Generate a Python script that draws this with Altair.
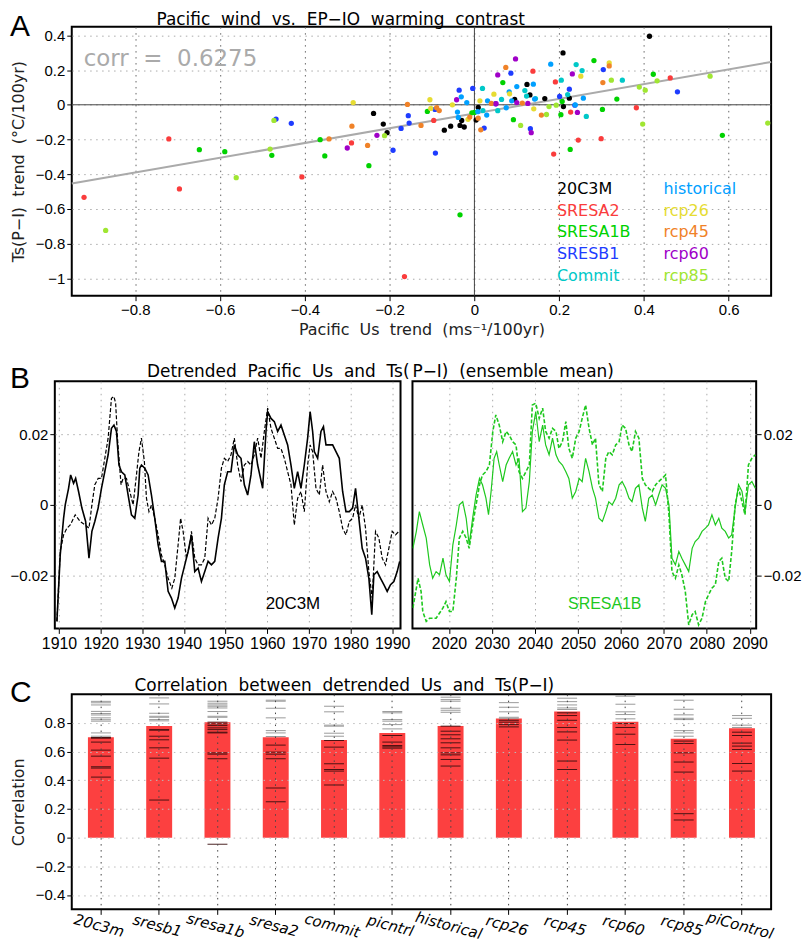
import altair as alt
import pandas as pd

FT = "DejaVu Sans"
FL = "Liberation Sans"
SP = " \u00a0"  # wide word gap (space + no-break space, not collapsed in SVG)

# ---------------- Panel A: scatter ----------------
a_series = ["20C3M", "SRESA2", "SRESA1B", "SRESB1", "Commit",
            "historical", "rcp26", "rcp45", "rcp60", "rcp85"]
a_colors = ["#000000", "#fa3c3c", "#00d200", "#1e3cff", "#00c8c8",
            "#00a0ff", "#e6dc32", "#f08228", "#a000c8", "#a0e632"]

us_20c3m = [-0.238, -0.215, -0.206, -0.071, -0.056, -0.034, -0.024, -0.030, 0.009, 0.004, 0.413, 0.209, 0.124, 0.224, 0.166, 0.210, 0.131, 0.095]
ts_20c3m = [-0.050, -0.111, -0.161, -0.146, -0.123, -0.119, -0.128, -0.090, -0.015, -0.088, 0.395, 0.299, 0.117, 0.038, 0.036, -0.010, 0.057, 0.031]
us_sresa2 = [-0.921, -0.721, -0.696, -0.407, -0.290, -0.165, -0.096, 0.138, 0.462, 0.191, 0.227, 0.382, 0.299, 0.245, 0.187]
ts_sresa2 = [-0.533, -0.197, -0.485, -0.416, -0.220, -0.990, -0.090, 0.194, 0.155, 0.132, -0.042, -0.017, -0.195, -0.203, -0.284]
us_sresa1b = [-0.649, -0.589, -0.478, -0.364, -0.353, -0.249, -0.111, 0.282, 0.067, 0.422, 0.336, 0.207, 0.302, 0.204, 0.585, 0.226, 0.092, 0.000, -0.034, -0.006]
ts_sresa1b = [-0.259, -0.270, -0.291, -0.201, -0.295, -0.351, -0.038, 0.255, 0.128, 0.176, 0.033, 0.019, -0.027, -0.057, -0.176, -0.257, -0.086, -0.044, -0.634, -0.046]
us_sresb1 = [-0.468, -0.432, -0.192, -0.173, -0.156, -0.154, -0.093, -0.092, -0.036, -0.004, 0.304, 0.086, 0.479, 0.224, 0.201, 0.237, 0.132, 0.050, 0.023]
ts_sresb1 = [-0.082, -0.107, -0.262, -0.136, -0.063, -0.105, -0.027, -0.278, 0.084, 0.094, 0.203, 0.182, 0.075, 0.090, 0.048, -0.002, -0.138, 0.006, -0.134]
us_commit = [0.240, 0.254, 0.349, 0.205, 0.019, 0.220, 0.264, 0.144, 0.064, 0.055, 0.020, 0.119, 0.123]
ts_commit = [0.232, 0.197, 0.142, 0.142, 0.094, 0.059, -0.067, 0.036, 0.031, -0.034, -0.033, 0.082, 0.050]
us_hist = [-0.031, -0.040, -0.038, -0.018, 0.180, 0.139, 0.100, 0.257, 0.031, 0.082, 0.075, 0.029, 0.008, 0.088, 0.142, 0.238]
ts_hist = [0.046, -0.042, -0.073, 0.013, 0.234, 0.119, 0.105, 0.038, 0.023, 0.075, -0.017, -0.059, -0.040, 0.023, 0.033, 0.000]
us_rcp26 = [-0.286, -0.105, -0.103, -0.052, -0.015, 0.318, 0.251, 0.046, 0.083, 0.013, 0.140]
ts_rcp26 = [0.013, 0.029, -0.021, 0.000, -0.084, 0.241, 0.165, 0.061, 0.063, 0.023, -0.023]
us_rcp45 = [-0.343, -0.289, -0.252, -0.158, -0.126, -0.089, -0.083, 0.015, 0.318, 0.074, 0.158, 0.113, 0.040, -0.011, 0.009, 0.303]
ts_rcp45 = [-0.197, -0.123, -0.234, 0.002, -0.119, -0.017, -0.033, -0.144, 0.224, 0.215, -0.059, 0.010, 0.008, -0.071, -0.077, 0.128]
us_rcp60 = [-0.300, -0.230, -0.042, 0.097, 0.231, 0.055, 0.243, 0.134, 0.126, 0.100, 0.051]
ts_rcp60 = [-0.249, -0.176, 0.029, 0.264, 0.178, 0.172, -0.044, -0.161, 0.008, 0.013, 0.006]
us_rcp85 = [-0.870, -0.562, -0.482, -0.473, -0.212, 0.556, 0.431, 0.323, 0.389, 0.403, 0.193, 0.176, 0.170, 0.397, 0.692, 0.109]
ts_rcp85 = [-0.724, -0.420, -0.255, -0.090, -0.178, 0.165, 0.138, 0.142, 0.102, 0.084, -0.002, -0.010, -0.056, -0.111, -0.105, -0.119]

a_us = [us_20c3m, us_sresa2, us_sresa1b, us_sresb1, us_commit, us_hist, us_rcp26, us_rcp45, us_rcp60, us_rcp85]
a_ts = [ts_20c3m, ts_sresa2, ts_sresa1b, ts_sresb1, ts_commit, ts_hist, ts_rcp26, ts_rcp45, ts_rcp60, ts_rcp85]

fit_us = [-0.95, 0.70]
fit_ts = [-0.454, 0.247]
corr_text = "corr" + SP + "=" + SP + "0.6275"
a_xticks = [-0.8, -0.6, -0.4, -0.2, 0, 0.2, 0.4, 0.6]
a_yticks = [0.4, 0.2, 0, -0.2, -0.4, -0.6, -0.8, -1.0]

# ---------------- Panel B: detrended ensemble means ----------------
b1_us = [(1909.5,-0.0330),(1910.3,-0.0142),(1911.1,-0.0038),(1911.5,0.0000),(1912.3,0.0047),(1912.8,0.0085),(1913.5,0.0061),(1914.0,0.0075),(1914.7,0.0038),(1915.5,-0.0009),(1916.4,-0.0047),(1917.2,-0.0151),(1917.9,-0.0075),(1918.6,-0.0047),(1919.4,-0.0009),(1920.2,0.0047),(1921.0,0.0094),(1921.8,0.0142),(1922.6,0.0217),(1923.2,0.0226),(1923.8,0.0208),(1924.4,0.0113),(1925.0,0.0094),(1925.8,0.0085),(1926.6,0.0028),(1927.4,-0.0028),(1928.2,-0.0038),(1929.0,0.0028),(1929.4,0.0104),(1929.8,0.0113),(1930.6,0.0104),(1931.4,0.0085),(1932.2,0.0028),(1933.0,-0.0038),(1933.8,-0.0113),(1934.6,-0.0160),(1935.4,-0.0160),(1936.2,-0.0245),(1937.0,-0.0264),(1937.8,-0.0292),(1938.6,-0.0264),(1939.4,-0.0208),(1940.2,-0.0170),(1941.0,-0.0132),(1941.8,-0.0085),(1942.6,-0.0189),(1943.4,-0.0179),(1944.2,-0.0217),(1945.0,-0.0189),(1945.8,-0.0160),(1946.6,-0.0170),(1947.4,-0.0160),(1948.2,-0.0094),(1949.0,-0.0038),(1949.7,0.0057),(1950.5,0.0094),(1951.3,0.0094),(1952.1,0.0170),(1952.9,0.0142),(1953.7,0.0132),(1954.5,0.0057),(1955.3,0.0028),(1956.1,0.0085),(1956.9,0.0179),(1957.7,0.0113),(1958.9,0.0047),(1959.7,0.0208),(1960.1,0.0264),(1960.9,0.0245),(1961.7,0.0236),(1962.5,0.0208),(1963.3,0.0226),(1964.1,0.0198),(1964.9,0.0170),(1965.7,0.0113),(1966.5,0.0047),(1967.3,0.0094),(1968.1,0.0047),(1968.9,0.0113),(1969.7,0.0189),(1970.3,0.0264),(1970.9,0.0208),(1971.3,0.0151),(1972.1,0.0132),(1972.9,0.0208),(1973.5,0.0222),(1974.1,0.0170),(1974.9,0.0170),(1975.7,0.0170),(1976.5,0.0151),(1977.3,0.0132),(1978.1,0.0038),(1978.9,-0.0019),(1979.7,-0.0019),(1980.5,-0.0009),(1981.2,0.0047),(1982.0,-0.0038),(1982.8,-0.0123),(1983.6,-0.0151),(1984.4,-0.0208),(1985.1,-0.0311),(1985.6,-0.0198),(1986.4,-0.0189),(1987.2,-0.0208),(1988.0,-0.0226),(1988.8,-0.0245),(1989.6,-0.0226),(1990.4,-0.0217),(1991.2,-0.0189),(1991.8,-0.0160)]
b1_ts = [(1909.5,-0.0330),(1910.3,-0.0132),(1911.1,-0.0085),(1911.9,-0.0066),(1912.7,-0.0057),(1913.9,-0.0028),(1915.1,-0.0047),(1916.3,-0.0057),(1917.2,-0.0066),(1917.9,0.0000),(1918.6,0.0057),(1919.4,0.0075),(1920.2,0.0075),(1921.0,0.0132),(1921.8,0.0189),(1922.6,0.0302),(1923.2,0.0307),(1923.6,0.0288),(1924.1,0.0179),(1924.9,0.0057),(1925.4,0.0075),(1926.2,0.0075),(1927.0,0.0038),(1927.8,0.0000),(1928.6,0.0085),(1929.2,0.0151),(1929.8,0.0189),(1930.5,0.0123),(1931.0,0.0019),(1931.6,-0.0019),(1932.2,0.0000),(1933.0,-0.0038),(1933.8,-0.0085),(1934.6,-0.0142),(1935.4,-0.0170),(1936.2,-0.0208),(1937.1,-0.0236),(1937.8,-0.0208),(1938.6,-0.0113),(1939.2,-0.0038),(1939.8,-0.0075),(1940.6,-0.0151),(1941.4,-0.0113),(1941.8,-0.0075),(1942.6,-0.0151),(1943.4,-0.0170),(1944.2,-0.0170),(1945.0,-0.0151),(1945.8,-0.0038),(1946.6,-0.0057),(1947.4,-0.0038),(1948.2,0.0019),(1949.0,0.0104),(1949.7,0.0132),(1950.5,0.0123),(1951.3,0.0142),(1952.1,0.0189),(1952.9,0.0113),(1953.7,0.0066),(1954.5,0.0113),(1955.3,0.0123),(1956.1,0.0113),(1956.9,0.0142),(1957.7,0.0189),(1958.5,0.0132),(1959.3,0.0208),(1960.1,0.0274),(1960.9,0.0217),(1961.7,0.0189),(1962.5,0.0160),(1963.3,0.0160),(1964.1,0.0132),(1964.9,0.0094),(1965.7,0.0057),(1966.5,-0.0057),(1967.3,0.0019),(1968.1,0.0038),(1968.9,-0.0019),(1969.7,0.0113),(1970.3,0.0170),(1970.9,0.0151),(1971.7,0.0047),(1972.5,0.0028),(1973.3,0.0113),(1974.1,0.0038),(1974.9,0.0009),(1975.7,0.0038),(1976.5,0.0019),(1977.3,-0.0019),(1978.1,-0.0066),(1978.9,-0.0085),(1979.7,-0.0047),(1980.5,-0.0038),(1981.2,0.0000),(1982.0,-0.0038),(1982.8,0.0000),(1983.6,-0.0066),(1984.4,-0.0189),(1985.2,-0.0264),(1986.0,-0.0075),(1986.8,-0.0094),(1987.6,-0.0151),(1988.4,-0.0170),(1989.2,-0.0123),(1990.0,-0.0075),(1990.8,-0.0085),(1991.6,-0.0075)]
b2_us = [(2011.6,-0.0123),(2012.4,-0.0075),(2013.1,-0.0019),(2013.9,-0.0057),(2014.7,-0.0094),(2015.5,-0.0170),(2016.2,-0.0208),(2017.0,-0.0189),(2017.8,-0.0198),(2018.6,-0.0151),(2019.3,-0.0198),(2020.1,-0.0217),(2020.9,-0.0113),(2021.7,-0.0057),(2022.4,0.0000),(2023.2,0.0009),(2024.0,-0.0038),(2024.7,-0.0113),(2025.5,-0.0038),(2026.3,0.0028),(2027.1,0.0075),(2027.8,0.0057),(2028.6,0.0019),(2029.2,-0.0028),(2029.8,0.0038),(2030.5,0.0132),(2031.1,0.0151),(2031.7,0.0113),(2032.5,0.0066),(2033.3,0.0113),(2034.0,0.0132),(2034.8,0.0151),(2035.6,0.0113),(2036.3,0.0132),(2037.1,-0.0019),(2037.9,-0.0009),(2038.7,0.0066),(2039.4,0.0208),(2040.2,0.0264),(2041.0,0.0179),(2041.8,0.0226),(2042.5,0.0170),(2043.3,0.0142),(2044.1,0.0189),(2044.9,0.0142),(2045.6,0.0123),(2046.4,0.0113),(2047.2,0.0094),(2047.9,0.0075),(2048.7,0.0019),(2049.5,0.0038),(2050.3,0.0075),(2051.0,0.0066),(2051.8,0.0132),(2052.6,0.0094),(2053.4,0.0047),(2054.1,0.0019),(2054.9,-0.0038),(2055.7,-0.0047),(2056.5,-0.0019),(2057.2,0.0009),(2058.0,0.0000),(2058.8,0.0019),(2059.6,0.0057),(2060.3,0.0066),(2061.1,0.0047),(2061.9,0.0019),(2062.6,0.0009),(2063.4,0.0047),(2064.2,0.0057),(2065.0,-0.0009),(2065.7,-0.0047),(2066.5,0.0019),(2067.3,0.0028),(2068.1,0.0000),(2068.8,0.0028),(2069.6,0.0057),(2070.4,0.0047),(2071.2,0.0000),(2071.9,-0.0151),(2072.7,-0.0170),(2073.5,-0.0132),(2074.2,-0.0151),(2075.0,-0.0170),(2075.8,-0.0189),(2076.6,-0.0123),(2077.3,-0.0104),(2078.1,-0.0094),(2078.9,-0.0075),(2079.7,-0.0066),(2080.4,-0.0057),(2081.2,-0.0028),(2082.0,-0.0057),(2082.8,-0.0038),(2083.5,-0.0066),(2084.3,-0.0075),(2085.1,-0.0094),(2085.8,-0.0085),(2086.6,-0.0009),(2087.4,0.0057),(2088.2,0.0038),(2088.9,-0.0019),(2089.7,0.0057),(2090.5,0.0066),(2091.3,0.0047)]
b2_ts = [(2011.6,-0.0292),(2012.8,-0.0208),(2013.5,-0.0245),(2013.9,-0.0302),(2014.7,-0.0330),(2015.5,-0.0321),(2017.0,-0.0321),(2018.6,-0.0292),(2019.3,-0.0274),(2020.1,-0.0302),(2020.9,-0.0302),(2021.7,-0.0208),(2022.4,-0.0094),(2023.2,-0.0075),(2024.0,-0.0094),(2024.7,-0.0123),(2025.5,-0.0057),(2026.3,0.0000),(2027.1,0.0057),(2027.8,0.0085),(2028.6,0.0094),(2029.4,0.0113),(2030.2,0.0208),(2030.9,0.0255),(2031.7,0.0226),(2032.5,0.0179),(2033.3,0.0208),(2034.0,0.0198),(2034.8,0.0179),(2035.6,0.0170),(2036.3,0.0094),(2037.1,0.0075),(2037.9,0.0094),(2038.7,0.0113),(2039.4,0.0283),(2040.2,0.0288),(2041.0,0.0245),(2041.8,0.0274),(2042.5,0.0208),(2043.3,0.0189),(2044.1,0.0217),(2044.9,0.0208),(2045.6,0.0160),(2046.4,0.0179),(2047.2,0.0236),(2047.9,0.0160),(2048.7,0.0132),(2049.5,0.0189),(2050.3,0.0208),(2051.0,0.0245),(2051.8,0.0283),(2052.6,0.0217),(2053.4,0.0170),(2054.1,0.0189),(2054.9,0.0057),(2055.7,0.0038),(2056.5,0.0132),(2057.2,0.0151),(2058.0,0.0142),(2058.8,0.0170),(2059.6,0.0179),(2060.3,0.0226),(2061.1,0.0217),(2061.9,0.0170),(2062.6,0.0151),(2063.4,0.0208),(2064.2,0.0189),(2065.0,0.0075),(2065.7,0.0057),(2066.5,0.0047),(2067.3,0.0038),(2068.1,0.0057),(2068.8,0.0066),(2069.6,0.0075),(2070.4,0.0085),(2071.2,-0.0028),(2071.9,-0.0189),(2072.7,-0.0208),(2073.5,-0.0170),(2074.2,-0.0198),(2075.0,-0.0245),(2075.8,-0.0340),(2076.6,-0.0311),(2077.3,-0.0302),(2078.1,-0.0340),(2078.9,-0.0321),(2079.7,-0.0274),(2080.4,-0.0255),(2081.2,-0.0236),(2082.0,-0.0226),(2082.8,-0.0160),(2083.5,-0.0151),(2084.3,-0.0208),(2085.1,-0.0217),(2085.8,-0.0132),(2086.6,0.0000),(2087.4,0.0047),(2088.2,0.0009),(2088.9,-0.0028),(2089.7,0.0113),(2090.5,0.0132),(2091.3,0.0142)]
b_yticks = [-0.02, 0, 0.02]
b1_xticks = [1910, 1920, 1930, 1940, 1950, 1960, 1970, 1980, 1990]
b2_xticks = [2020, 2030, 2040, 2050, 2060, 2070, 2080, 2090]

# ---------------- Panel C: correlations ----------------
c_cats = ["20c3m", "sresb1", "sresa1b", "sresa2", "commit", "picntrl",
          "historical", "rcp26", "rcp45", "rcp60", "rcp85", "piControl"]
c_mean = [0.700, 0.778, 0.805, 0.700, 0.680, 0.730, 0.779, 0.830, 0.879, 0.807, 0.689, 0.763]
c_models = [
    [0.950, 0.940, 0.925, 0.880, 0.865, 0.855, 0.835, 0.822, 0.812, 0.730, 0.707, 0.698, 0.693, 0.666, 0.610, 0.568, 0.494, 0.485, 0.422],
    [0.974, 0.932, 0.867, 0.846, 0.839, 0.823, 0.814, 0.753, 0.749, 0.707, 0.682, 0.626, 0.554, 0.262],
    [0.951, 0.937, 0.925, 0.916, 0.904, 0.879, 0.846, 0.839, 0.805, 0.793, 0.781, 0.765, 0.753, 0.735, 0.730, 0.591, 0.582, 0.550, -0.046],
    [0.958, 0.951, 0.902, 0.835, 0.746, 0.730, 0.705, 0.645, 0.596, 0.582, 0.550, 0.346, 0.250],
    [0.916, 0.877, 0.784, 0.777, 0.728, 0.707, 0.677, 0.631, 0.515, 0.475, 0.464, 0.367],
    [0.879, 0.870, 0.823, 0.812, 0.788, 0.758, 0.712, 0.666, 0.642, 0.633, 0.624],
    [0.979, 0.962, 0.951, 0.902, 0.888, 0.874, 0.777, 0.742, 0.717, 0.689, 0.661, 0.626, 0.591, 0.577, 0.545, 0.499],
    [0.941, 0.909, 0.877, 0.839, 0.832, 0.818, 0.805, 0.788, 0.772],
    [0.972, 0.948, 0.925, 0.904, 0.893, 0.870, 0.851, 0.818, 0.768, 0.737, 0.680, 0.534, 0.475],
    [0.986, 0.930, 0.877, 0.858, 0.828, 0.795, 0.768, 0.721, 0.649],
    [0.958, 0.895, 0.856, 0.832, 0.823, 0.746, 0.730, 0.707, 0.673, 0.656, 0.591, 0.527, 0.457, 0.167, 0.123],
    [0.851, 0.832, 0.784, 0.768, 0.735, 0.712, 0.659, 0.638, 0.614, 0.517, 0.464],
]
c_yticks = [0.8, 0.6, 0.4, 0.2, 0, -0.2, -0.4]

# ================= build tables =================
rows = []
for name, xs, ys in zip(a_series, a_us, a_ts):
    for x, y in zip(xs, ys):
        rows.append({"series": name, "us": x, "ts": y})
df_a = pd.DataFrame(rows)
df_fit = pd.DataFrame({"us": fit_us, "ts": fit_ts})
df_zero = pd.DataFrame({"us": [0.0], "ts": [0.0]})


def one(text):
    return alt.Chart(pd.DataFrame({"t": [text]}))


def label(text, x, y, size, color="black", font=FT, align="left", baseline="top"):
    return one(text).mark_text(font=font, fontSize=size, color=color, align=align,
                               baseline=baseline).encode(text="t:N", x=alt.value(x), y=alt.value(y))


def spacer():
    return one("").mark_rule(strokeOpacity=0).encode(
        x=alt.value(0), y=alt.value(0), y2=alt.value(1)
    ).properties(width=1, height=1, view=alt.ViewBackground(stroke="transparent", strokeWidth=0))


# ---------------- Panel A chart ----------------
xa = alt.X("us:Q", scale=alt.Scale(domain=[-0.95, 0.70], nice=False, zero=False),
           axis=alt.Axis(values=a_xticks, format=".1~f",
                         title="Pacific" + SP + "Us" + SP + "trend" + SP + "(ms\u207b\u00b9/100yr)",
                         titlePadding=4, labelPadding=2, gridColor="#666666", labelOverlap=False))
ya = alt.Y("ts:Q", scale=alt.Scale(domain=[-1.1, 0.45], nice=False, zero=False),
           axis=alt.Axis(values=a_yticks, format=".1~f",
                         title="Ts(P\u2212I)" + SP + "trend" + SP + "(\u00b0C/100yr)",
                         titlePadding=9, labelPadding=2, gridColor="#aaaaaa", labelOverlap=False))

zero_h = alt.Chart(df_zero).mark_rule(color="#444444", strokeWidth=1).encode(y=ya)
zero_v = alt.Chart(df_zero).mark_rule(color="#444444", strokeWidth=1).encode(x=xa)
fit = alt.Chart(df_fit).mark_line(color="#aaaaaa", strokeWidth=2).encode(x=xa, y=ya)
pts = alt.Chart(df_a).mark_circle(size=28, opacity=1).encode(
    x=xa, y=ya,
    color=alt.Color("series:N", scale=alt.Scale(domain=a_series, range=a_colors), legend=None))

a_layers = [zero_h, zero_v, fit, pts,
            label(corr_text, 12, 32, 23, color="#aaaaaa", baseline="middle"),
            label(SP.join(["Pacific", "wind", "vs.", "EP\u2212IO", "warming", "contrast"]), 85, -15, 17),
            label("A", -62, -15, 30, font=FL)]
for i, (name, col) in enumerate(zip(a_series, a_colors)):
    a_layers.append(label(name, 487 + (i // 5) * 107, 163 + (i % 5) * 21.7, 16, color=col, baseline="middle"))
chart_a = alt.layer(*a_layers).properties(width=702, height=270)

# ---------------- Panel B charts ----------------
df_b1_us = pd.DataFrame(b1_us, columns=["year", "val"])
df_b1_ts = pd.DataFrame(b1_ts, columns=["year", "val"])
df_b2_us = pd.DataFrame(b2_us, columns=["year", "val"])
df_b2_ts = pd.DataFrame(b2_ts, columns=["year", "val"])


def yb(orient):
    return alt.Y("val:Q", scale=alt.Scale(domain=[-0.035, 0.035], nice=False, zero=False),
                 axis=alt.Axis(values=b_yticks, format=".2~f", title=None, orient=orient,
                               labelFontSize=15, labelPadding=2, gridColor="#aaaaaa"))


xb1 = alt.X("year:Q", scale=alt.Scale(domain=[1909, 1992], nice=False, zero=False),
            axis=alt.Axis(values=b1_xticks, format="d", title=None, labelFontSize=16,
                          labelPadding=2, gridColor="#aaaaaa", labelOverlap=False, labelFlush=False))
xb2 = alt.X("year:Q", scale=alt.Scale(domain=[2011.5, 2091.5], nice=False, zero=False),
            axis=alt.Axis(values=b2_xticks, format="d", title=None, labelFontSize=16,
                          labelPadding=2, gridColor="#aaaaaa", labelOverlap=False, labelFlush=False))

b1 = alt.layer(
    alt.Chart(df_b1_ts).mark_line(color="black", strokeWidth=1.2, strokeDash=[4, 2], clip=True).encode(x=xb1, y=yb("left")),
    alt.Chart(df_b1_us).mark_line(color="black", strokeWidth=1.6, clip=True).encode(x=xb1, y=yb("left")),
    label("20C3M", 239, 223, 17, font=FL, align="center", baseline="middle"),
    label(SP.join(["Detrended", "Pacific", "Us", "and", "Ts("]), 356, -17, 17, align="right"),
    label("B", -45, -17, 30, font=FL),
).properties(width=347, height=248)

b2 = alt.layer(
    alt.Chart(df_b2_ts).mark_line(color="#1ec81e", strokeWidth=1.6, strokeDash=[4, 2], clip=True).encode(x=xb2, y=yb("right")),
    alt.Chart(df_b2_us).mark_line(color="#1ec81e", strokeWidth=1.2, clip=True).encode(x=xb2, y=yb("right")),
    label("SRESA1B", 193, 223, 16, color="#1ec81e", font=FL, align="center", baseline="middle"),
    label(SP.join(["P\u2212I)", "(ensemble", "mean)"]), 0, -17, 17),
).properties(width=345, height=248)

# ---------------- Panel C chart ----------------
bar_rows, above_rows, below_rows = [], [], []
for cat, m, models in zip(c_cats, c_mean, c_models):
    bar_rows.append({"cat": cat, "r": m})
    for v in models:
        (above_rows if v > m else below_rows).append({"cat": cat, "r": v})
df_c_bar = pd.DataFrame(bar_rows)
df_c_above = pd.DataFrame(above_rows)
df_c_below = pd.DataFrame(below_rows)

xc = alt.X("cat:N", sort=c_cats,
           scale=alt.Scale(domain=c_cats, paddingInner=0.555, paddingOuter=0.2775),
           axis=alt.Axis(title=None, labelAngle=15, labelAlign="center", labelBaseline="top",
                         labelFont=FT, labelFontStyle="italic", labelFontSize=15, labelPadding=4,
                         grid=True, bandPosition=0.5, zindex=1, gridColor="#444444"))
yc = alt.Y("r:Q", scale=alt.Scale(domain=[-0.5, 1.0], nice=False, zero=False),
           axis=alt.Axis(values=c_yticks, format=".1~f", title="Correlation", titlePadding=9,
                         labelPadding=2, zindex=1, gridColor="#bbbbbb", labelOverlap=False))

chart_c = alt.layer(
    alt.Chart(df_c_bar).mark_bar(color="#fc4040").encode(x=xc, y=yc),
    alt.Chart(df_c_above).mark_tick(size=20, thickness=1, color="#9a9a9a", opacity=1).encode(x=xc, y=yc),
    alt.Chart(df_c_below).mark_tick(size=20, thickness=1, color="#3a0c0c", opacity=0.9).encode(x=xc, y=yc),
    label(SP.join(["Correlation", "between", "detrended", "Us", "and", "Ts(P\u2212I)"]), 63, -16, 17),
    label("C", -62, -16, 30, font=FL),
).properties(width=702, height=216)

chart = alt.vconcat(
    alt.hconcat(spacer(), chart_a, spacing=0),
    alt.hconcat(spacer(), b1, b2, spacing=0),
    alt.hconcat(spacer(), chart_c, spacing=0),
    spacing=24,
).properties(padding=0, background="white").configure_view(
    stroke="black", strokeWidth=2
).configure_axis(
    domain=False, tickColor="black", tickSize=5, tickWidth=1,
    labelFont=FL, labelFontSize=15, labelColor="black",
    titleFont=FT, titleFontSize=16, titleFontWeight="normal", titleColor="#222222",
    grid=True, gridDash=[1.5, 4.5], gridWidth=1, gridOpacity=1,
)

chart.save("out.html", embed_options={"renderer": "svg", "actions": False})
